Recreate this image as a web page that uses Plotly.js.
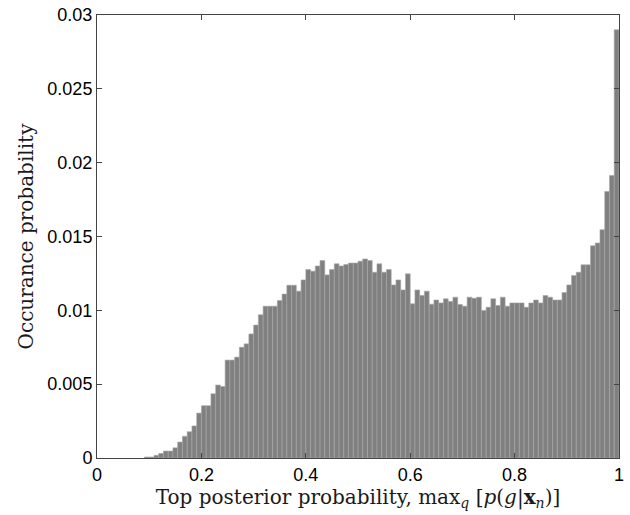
<!DOCTYPE html>
<html>
<head>
<meta charset="utf-8">
<script src="https://cdn.plot.ly/plotly-3.0.1.min.js"></script>
<style>html,body{margin:0;padding:0;background:#fff;}</style>
</head>
<body>
<div id="chart" style="width:630px;height:515px;"></div>
<script>
// bin centres of the histogram (100 bins)
var binCenters = [
0.0955,0.1046,0.1137,0.1228,0.1319,0.1410,0.1500,0.1591,0.1682,0.1773,
0.1864,0.1955,0.2046,0.2137,0.2228,0.2319,0.2409,0.2500,0.2591,0.2682,
0.2773,0.2864,0.2955,0.3046,0.3137,0.3228,0.3318,0.3409,0.3500,0.3591,
0.3682,0.3773,0.3864,0.3955,0.4046,0.4137,0.4227,0.4318,0.4409,0.4500,
0.4591,0.4682,0.4773,0.4864,0.4955,0.5046,0.5136,0.5227,0.5318,0.5409,
0.5500,0.5591,0.5682,0.5773,0.5864,0.5955,0.6045,0.6136,0.6227,0.6318,
0.6409,0.6500,0.6591,0.6682,0.6773,0.6864,0.6954,0.7045,0.7136,0.7227,
0.7318,0.7409,0.7500,0.7591,0.7682,0.7773,0.7863,0.7954,0.8045,0.8136,
0.8227,0.8318,0.8409,0.8500,0.8591,0.8682,0.8772,0.8863,0.8954,0.9045,
0.9136,0.9227,0.9318,0.9409,0.9500,0.9591,0.9681,0.9772,0.9863,0.9954
];
// occurrence probability per bin
var probabilities = [
0.00007,0.00007,0.00018,0.00031,0.00047,0.00047,0.00069,0.00108,0.00147,0.00178,
0.00217,0.00304,0.00354,0.00354,0.00435,0.00494,0.00484,0.00663,0.00663,0.00683,
0.00750,0.00773,0.00840,0.00900,0.00970,0.01028,0.01028,0.01028,0.01066,0.01110,
0.01170,0.01170,0.01130,0.01206,0.01276,0.01265,0.01300,0.01337,0.01240,0.01276,
0.01315,0.01300,0.01310,0.01320,0.01320,0.01333,0.01348,0.01337,0.01258,0.01315,
0.01258,0.01276,0.01172,0.01206,0.01138,0.01247,0.01044,0.01138,0.01100,0.01130,
0.01042,0.01070,0.01050,0.01078,0.01060,0.01089,0.01040,0.01028,0.01089,0.01082,
0.01089,0.00999,0.01021,0.01078,0.01033,0.01089,0.01028,0.01050,0.01050,0.01050,
0.01021,0.01050,0.01070,0.01050,0.01100,0.01089,0.01070,0.01070,0.01120,0.01172,
0.01236,0.01258,0.01308,0.01308,0.01437,0.01456,0.01546,0.01805,0.01913,0.02900
];
var binWidth = 0.00909;

var xTickVals = [0, 0.2, 0.4, 0.6, 0.8, 1];
var xTickText = ["0", "0.2", "0.4", "0.6", "0.8", "1"];
var yTickVals = [0, 0.005, 0.01, 0.015, 0.02, 0.025, 0.03];
var yTickText = ["0", "0.005", "0.01", "0.015", "0.02", "0.025", "0.03"];

var trace = {
  type: 'bar',
  x: binCenters,
  y: probabilities,
  width: binWidth,
  marker: {color: '#808080', line: {color: '#a6a6a6', width: 0.6}},
  hoverinfo: 'x+y'
};

var tickFont = {family: '"Liberation Sans", Arial, sans-serif', size: 18, color: '#000'};
var titleFont = {family: '"DejaVu Serif", "Liberation Serif", serif', size: 20, color: '#1a1a1a'};

var layout = {
  width: 630, height: 515,
  margin: {l: 97, r: 11, t: 15, b: 57, pad: 0},
  paper_bgcolor: '#fff', plot_bgcolor: '#fff',
  showlegend: false,
  bargap: 0,
  xaxis: {
    range: [0, 1],
    tickvals: xTickVals, ticktext: xTickText,
    ticks: 'inside', ticklen: 5, tickcolor: '#444', tickwidth: 1,
    showline: true, linecolor: '#444', linewidth: 1, mirror: 'ticks',
    showgrid: false, zeroline: false,
    tickfont: tickFont,
    title: {text: 'Top posterior probability, max<sub><i>q</i></sub> [<i>p</i>(<i>g</i>|<b>x</b><sub><i>n</i></sub>)]', font: titleFont, standoff: 5}
  },
  yaxis: {
    range: [0, 0.03],
    tickvals: yTickVals, ticktext: yTickText,
    ticks: 'inside', ticklen: 5, tickcolor: '#444', tickwidth: 1,
    showline: true, linecolor: '#444', linewidth: 1, mirror: 'ticks',
    showgrid: false, zeroline: false,
    tickfont: tickFont,
    title: {text: 'Occurance probability', font: titleFont, standoff: 8}
  }
};

Plotly.newPlot('chart', [trace], layout, {staticPlot: true, displayModeBar: false});
</script>
</body>
</html>
